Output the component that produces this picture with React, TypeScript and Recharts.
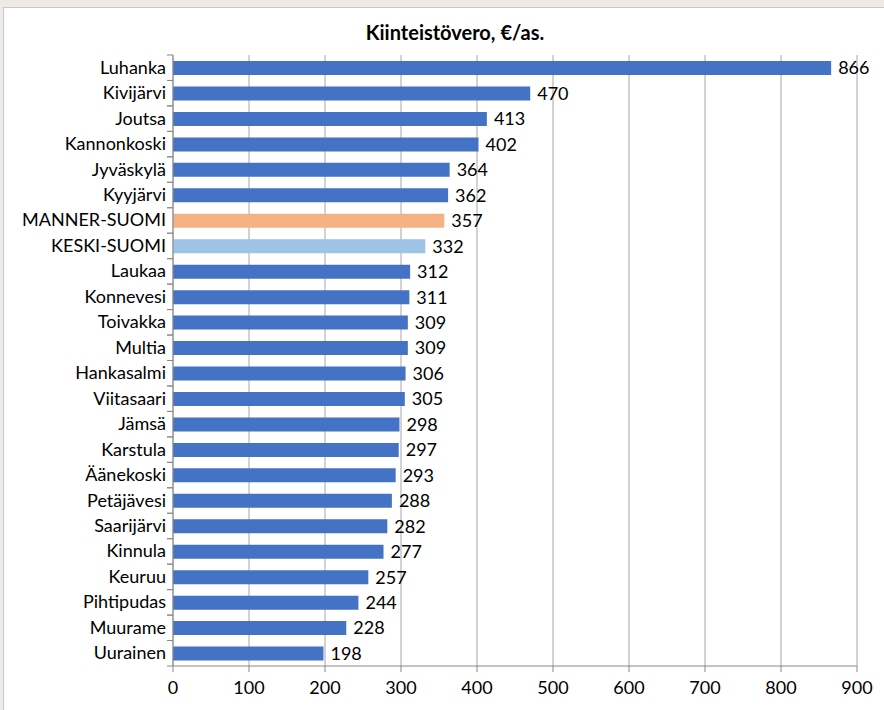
import React from "react";
import {
  BarChart, Bar, XAxis, YAxis, CartesianGrid, LabelList, Cell,
} from "recharts";

const municipalities = [
  "Luhanka", "Kivijärvi", "Joutsa", "Kannonkoski", "Jyväskylä", "Kyyjärvi",
  "MANNER-SUOMI", "KESKI-SUOMI", "Laukaa", "Konnevesi", "Toivakka", "Multia",
  "Hankasalmi", "Viitasaari", "Jämsä", "Karstula", "Äänekoski", "Petäjävesi",
  "Saarijärvi", "Kinnula", "Keuruu", "Pihtipudas", "Muurame", "Uurainen",
];

const taxPerCapita = [
  866, 470, 413, 402, 364, 362, 357, 332, 312, 311, 309, 309,
  306, 305, 298, 297, 293, 288, 282, 277, 257, 244, 228, 198,
];

const xTicks = [0, 100, 200, 300, 400, 500, 600, 700, 800, 900];

const data = municipalities.map((name, i) => ({ name, value: taxPerCapita[i] }));

const FONT = "Lato, 'Open Sans', sans-serif";
const TOP = 55;
const PLOT_H = 611;
const BAND = PLOT_H / municipalities.length;

const barColor = (name: string) => {
  if (name === "MANNER-SUOMI") return "#f4b183";
  if (name === "KESKI-SUOMI") return "#9dc3e6";
  return "#4472c4";
};

const CategoryTick = ({ x, y, payload }: any) => (
  <g>
    <line x1={x + 2} x2={x + 8} y1={y - BAND / 2} y2={y - BAND / 2} stroke="#888" />
    <line x1={x + 2} x2={x + 8} y1={y + BAND / 2} y2={y + BAND / 2} stroke="#888" />
    <text x={x + 1} y={y} dy={6} textAnchor="end" fontSize={18} fill="#000" fontFamily={FONT}>
      {payload.value}
    </text>
  </g>
);

export default function App() {
  return (
    <div style={{ position: "absolute", left: 0, top: 0, width: 884, height: 710, background: "#eeebe6" }}>
      <div
        style={{
          position: "absolute", left: 3, top: 7, width: 881, height: 703,
          background: "#fff", borderLeft: "1px solid #c8c8c8", borderTop: "1px solid #c8c8c8",
        }}
      />
      <div
        style={{
          position: "absolute", left: 0, top: 20, width: 910, textAlign: "center",
          fontFamily: FONT, fontWeight: 700, fontSize: 20, color: "#000",
        }}
      >
        Kiinteistövero, €/as.
      </div>
      <div style={{ position: "absolute", left: 0, top: 0 }}>
        <BarChart
          width={884}
          height={710}
          data={data}
          layout="vertical"
          margin={{ top: TOP, right: 27, left: 0, bottom: 14 }}
          barSize={14}
        >
          <CartesianGrid vertical horizontal={false} stroke="#a6a6a6" />
          <XAxis
            type="number"
            domain={[0, 900]}
            ticks={xTicks}
            interval={0}
            height={30}
            stroke="#888"
            tickSize={6}
            tickMargin={9}
            tick={{ fontSize: 18, fill: "#000", fontFamily: FONT }}
          />
          <YAxis
            type="category"
            dataKey="name"
            width={173}
            stroke="#888"
            tickLine={false}
            tick={<CategoryTick />}
            interval={0}
          />
          <Bar dataKey="value" isAnimationActive={false}>
            {data.map((d) => (
              <Cell key={d.name} fill={barColor(d.name)} />
            ))}
            <LabelList
              dataKey="value"
              position="right"
              offset={7}
              style={{ fontSize: 18, fill: "#000", fontFamily: FONT }}
            />
          </Bar>
        </BarChart>
      </div>
    </div>
  );
}
